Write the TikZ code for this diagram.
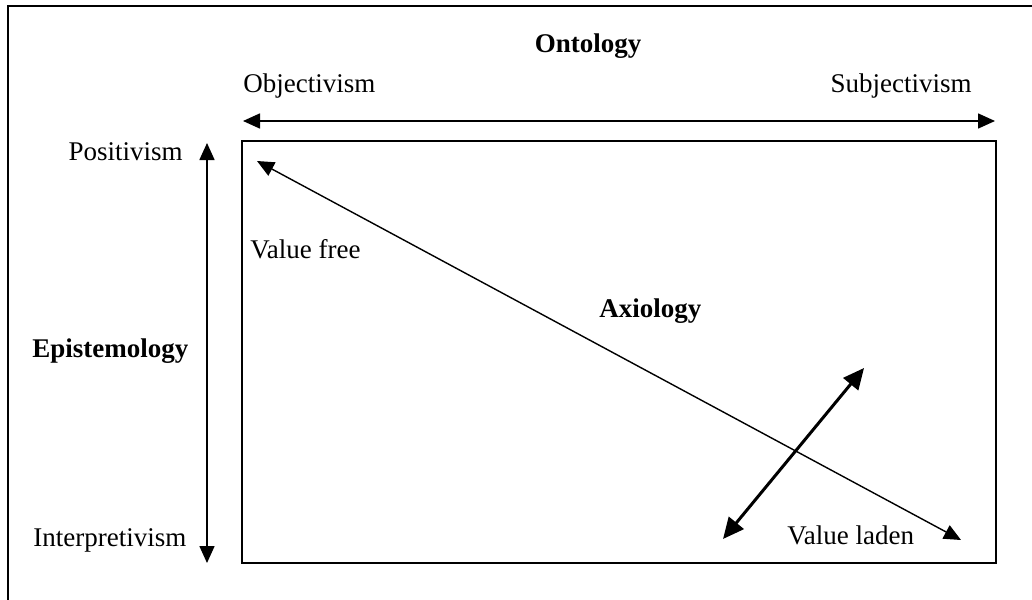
\documentclass[tikz,border=0pt]{standalone}
\usepackage{fontspec}
\setmainfont{Liberation Serif}
\usepackage{tikz}
\usetikzlibrary{arrows.meta, positioning, calc}

\begin{document}
\begin{tikzpicture}[x=0.5pt, y=-0.5pt, >={Triangle[length=8.5pt, width=7.5pt]},
    label/.style={inner sep=0pt, font=\fontsize{13.5}{16}\selectfont},
    heading/.style={label, font=\fontsize{13.5}{16}\selectfont\bfseries},
    axis/.style={<->, line width=0.8pt}]

    \clip (0,0) rectangle (1032,599);

    % outer frame (its right and bottom sides fall off the page)
    \draw [line width=1.2pt] (8,700) -- (8,6) -- (1100,6);

    % the field itself
    \node [draw, line width=0.8pt, inner sep=0pt, minimum width=377pt, minimum height=211pt] (field) at (619,352) {};

    % headings
    \node [heading, anchor=base] (ontology) at (588,53) {Ontology};
    \node [heading, anchor=base west] (episte) at (32,357) {Epistemology};
    \node [heading, anchor=base west] (axiology) at (599,317) {Axiology};

    % poles
    \node [label, anchor=base west] (objective) at (243,93) {Objectivism};
    \node [label, anchor=base east] (subjective) at (972,93) {Subjectivism};
    \node [label, anchor=base east] (positiv) at (183,160) {Positivism};
    \node [label, anchor=base west] (interpret) at (33,546) {Interpretivism};
    \node [label, anchor=base west] (valfree) at (250,258) {Value free};
    \node [label, anchor=base west] (valladen) at (787,544) {Value laden};

    % arrow ends
    \coordinate (ontoL) at (243,121);
    \coordinate (ontoR) at (995,121);
    \coordinate (epiT) at (207,143);
    \coordinate (epiB) at (207,563);
    \coordinate (axT) at (257,161);
    \coordinate (axB) at (961,540);
    \coordinate (crossT) at (864,368);
    \coordinate (crossB) at (723,539);

    \draw [axis] (ontoL) -- (ontoR);
    \draw [axis] (epiT) -- (epiB);
    \draw [<->, line width=0.7pt] (axT) -- (axB);
    \draw [{Triangle[length=10.5pt, width=9.5pt]}-{Triangle[length=10.5pt, width=9.5pt]}, line width=1.5pt] (crossB) -- (crossT);
\end{tikzpicture}
\end{document}
